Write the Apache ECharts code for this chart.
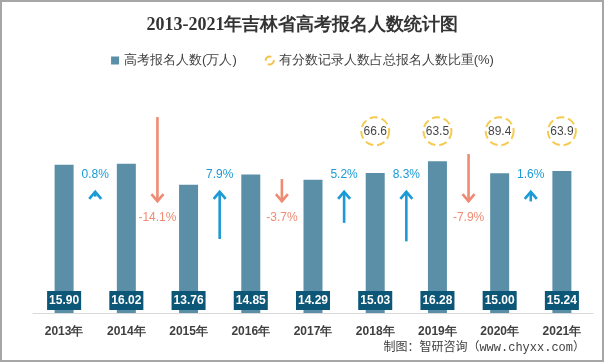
<!DOCTYPE html>
<html>
<head>
<meta charset="utf-8">
<script src="https://cdn.jsdelivr.net/npm/echarts@6/dist/echarts.min.js"></script>
<style>html,body{margin:0;padding:0;background:#fff}#c{width:605px;height:363px}</style>
</head>
<body>
<div id="c"></div>
<script>
const categories = ['2013年','2014年','2015年','2016年','2017年','2018年','2019年','2020年','2021年'];
const applicants = [15.90, 16.02, 13.76, 14.85, 14.29, 15.03, 16.28, 15.00, 15.24];
const admissionRatio = [null, null, null, null, null, 66.6, 63.5, 89.4, 63.9];
const growth = [0.8, -14.1, 7.9, -3.7, 5.2, 8.3, -7.9, 1.6];

const UP = '#1b9ad6', DOWN = '#ef8b74';
const UP_TIP = 13.0, DOWN_TIP = 12.0, K = 0.64, CIRCLE_Y = 19.5;

const chart = echarts.init(document.getElementById('c'));
chart.setOption({
  animation: false,
  title: {
    text: '2013-2021年吉林省高考报名人数统计图',
    left: 'center', top: 11,
    textStyle: {fontSize: 18, fontWeight: 'bold', color: '#333', fontFamily: 'serif'}
  },
  legend: {
    top: 49, left: 'center', itemGap: 28, itemWidth: 8, itemHeight: 8,
    textStyle: {fontSize: 13, color: '#404040'},
    data: [
      {name: '高考报名人数(万人)', icon: 'rect', itemStyle: {color: '#5a8fa7'}},
      {name: '有分数记录人数占总报名人数比重(%)', icon: 'circle',
       itemStyle: {color: '#fff', borderColor: '#f0b21e', borderWidth: 2, borderType: 'dashed'}}
    ]
  },
  grid: {left: 33, right: 12, top: 80, bottom: 50},
  xAxis: {
    type: 'category', data: categories,
    axisLine: {lineStyle: {color: '#d9d9d9'}},
    axisTick: {show: false},
    axisLabel: {fontSize: 12, fontWeight: 'bold', color: '#404040', margin: 13}
  },
  yAxis: {type: 'value', min: 0, max: 25, show: false, splitLine: {show: false}},
  graphic: [
    {type: 'rect', shape: {x: 1, y: 1, width: 602, height: 360}, style: {fill: null, stroke: '#a6a6a6', lineWidth: 2}, silent: true},
    {type: 'text', right: 20, top: 342, style: {text: '制图：智研咨询（www.chyxx.com）', fontSize: 12, fill: '#404040', fontFamily: "'Liberation Mono','Noto Sans CJK SC'"}}
  ],
  series: [
    {
      name: '高考报名人数(万人)', type: 'bar', data: applicants, barWidth: 19,
      itemStyle: {color: '#5a8fa7'},
      label: {
        show: true, position: 'insideBottom', distance: 3,
        formatter: p => p.value.toFixed(2),
        color: '#fff', fontWeight: 'bold', fontSize: 12, lineHeight: 13,
        backgroundColor: '#0c5677', padding: [3, 2]
      }
    },
    {
      name: '有分数记录人数占总报名人数比重(%)', type: 'scatter', symbol: 'circle', symbolSize: 28,
      clip: false,
      data: admissionRatio.map((r, i) => r == null ? null : [i, CIRCLE_Y, r]),
      itemStyle: {color: '#fff', borderColor: '#f2bd22', borderWidth: 2, borderType: 'dashed'},
      label: {show: true, position: 'inside', formatter: p => p.value[2].toFixed(1), color: '#111', fontSize: 12}
    },
    {
      name: 'growth', type: 'custom',
      data: growth.map((g, i) => [i, g]),
      encode: {x: 0, y: 1},
      renderItem: function (params, api) {
        const i = api.value(0), g = api.value(1);
        const up = g >= 0, dir = up ? 1 : -1;
        const tipV = up ? UP_TIP : DOWN_TIP;
        const tailV = up ? UP_TIP - Math.abs(g) * K : DOWN_TIP + Math.abs(g) * K;
        const a = api.coord([i, tipV]), b = api.coord([i + 1, tipV]);
        const x = (a[0] + b[0]) / 2, tipY = a[1], tailY = api.coord([i, tailV])[1];
        const color = up ? UP : DOWN;
        const children = [
          {type: 'polyline', shape: {points: [[x - 6, tipY + dir * 7], [x, tipY], [x + 6, tipY + dir * 7]]},
           style: {stroke: color, lineWidth: 2.6, fill: null}}
        ];
        if (Math.abs(tailY - tipY) > 4) {
          children.push({type: 'line', shape: {x1: x, y1: tailY, x2: x, y2: tipY + dir * 1},
            style: {stroke: color, lineWidth: 2.6}});
        }
        children.push({type: 'text', style: {
          text: g.toFixed(1) + '%', x: x, y: tipY - dir * 17,
          fill: color, fontSize: 12, align: 'center', verticalAlign: 'middle'}});
        return {type: 'group', children: children};
      }
    }
  ]
});
</script>
</body>
</html>
